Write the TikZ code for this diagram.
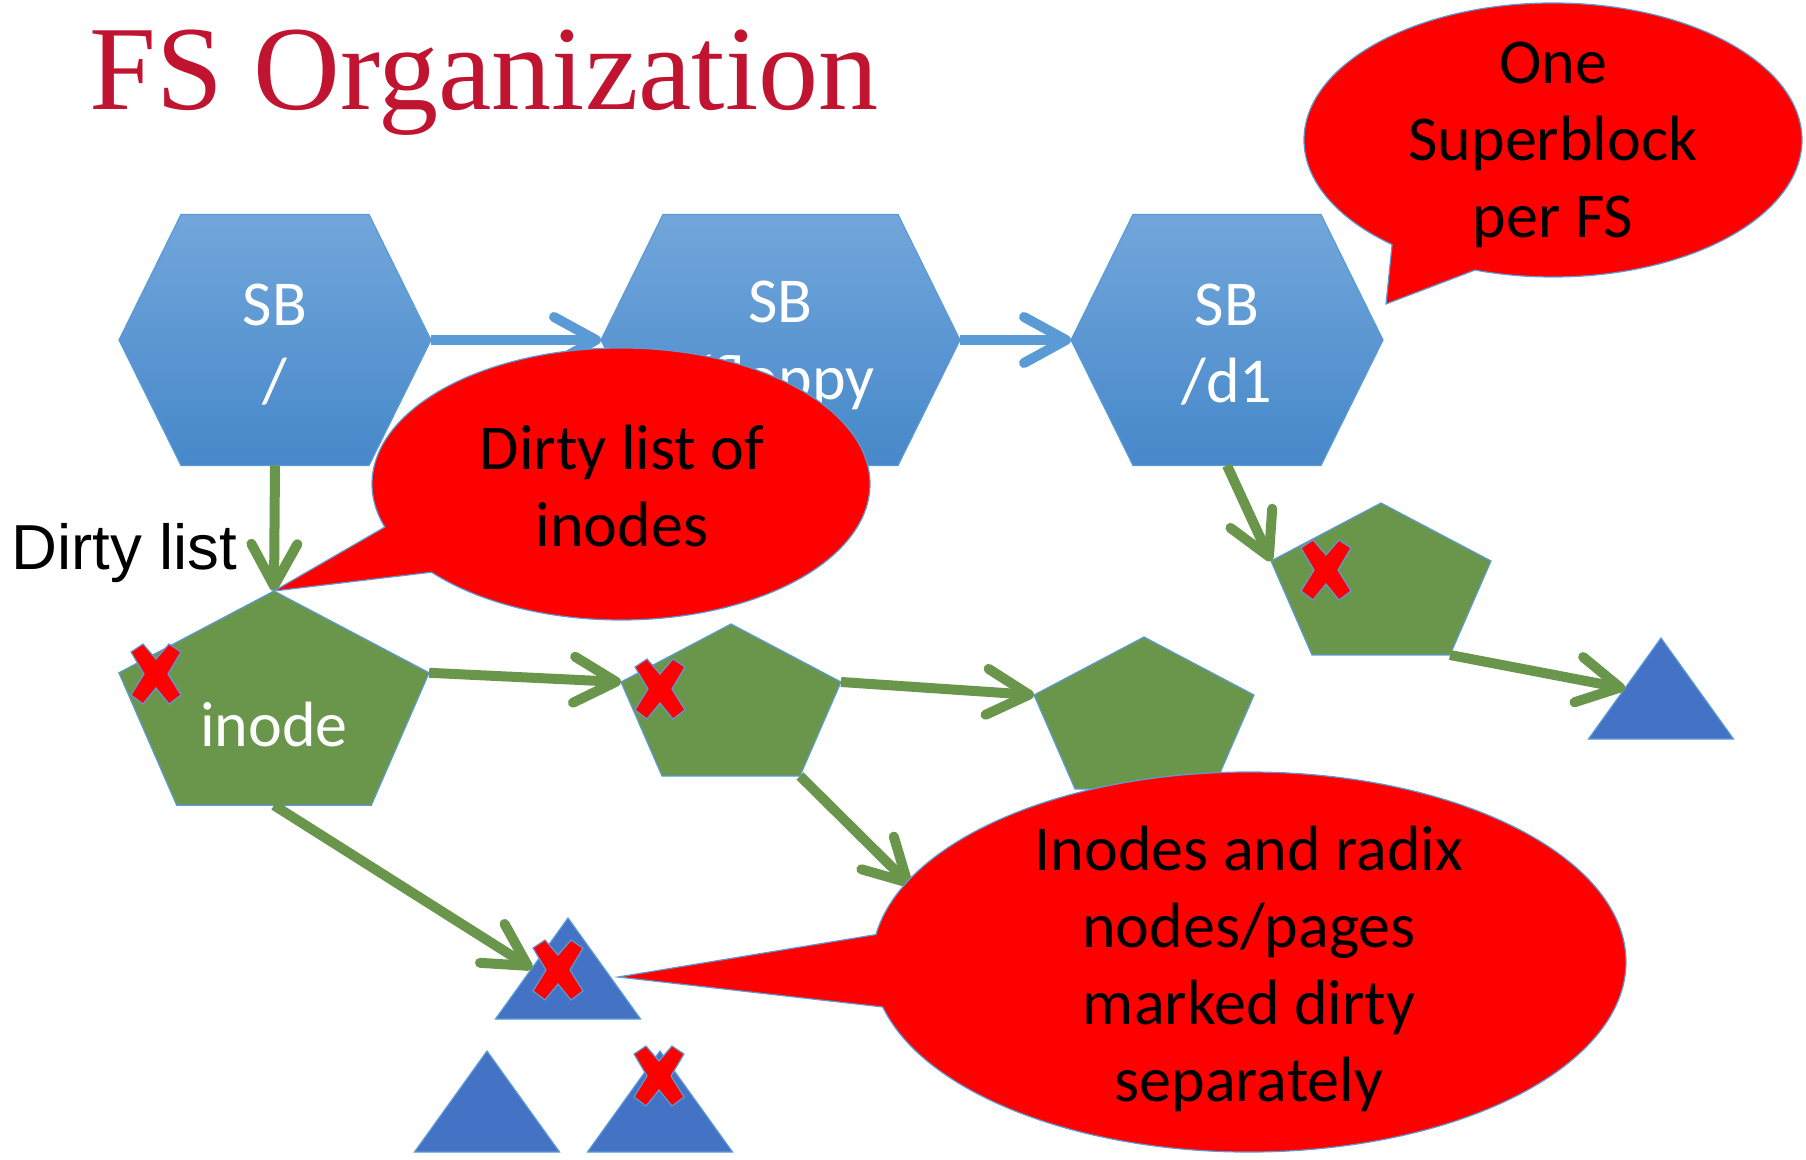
\documentclass[tikz,border=0pt]{standalone}
\usepackage{fontspec}
\setmainfont{Carlito}
\newfontfamily\arialfont{Liberation Sans}
\newfontfamily\titlefont{Liberation Serif}
\usetikzlibrary{arrows.meta,shapes.callouts}

\definecolor{titlered}{RGB}{192,20,48}
\definecolor{hextop}{RGB}{114,166,219}
\definecolor{hexbot}{RGB}{70,136,201}
\definecolor{linkblue}{RGB}{91,155,213}
\definecolor{inodegreen}{RGB}{106,150,76}
\definecolor{pageblue}{RGB}{68,114,196}
\definecolor{edgeblue}{RGB}{91,155,213}

\tikzset{
  shapeedge/.style={draw=edgeblue, line width=0.6pt},
  bigtext/.style={font=\fontsize{32pt}{38.5pt}\selectfont, align=center, inner sep=0pt},
  sblabel/.style={bigtext, text=white},
  sblink/.style={draw=linkblue, line width=5pt, -{Straight Barb[length=21pt,width=23pt,round]}},
  dirtylink/.style={sblink, draw=inodegreen},
  bubble/.style={ellipse callout, fill=red, shapeedge, inner sep=0pt, callout pointer arc=22},
  %% superblock hexagon, #1 = half length of the top edge
  pics/sbhex/.style={code={
    \shadedraw[shapeedge, top color=hextop, bottom color=hexbot]
      (-#1-62,0) -- (-#1,-125.5) -- (#1,-125.5) -- (#1+62,0) -- (#1,125.5) -- (-#1,125.5) -- cycle;
    \coordinate (-center) at (0,5);
    \coordinate (-west) at (-#1-62,0);
    \coordinate (-east) at (#1+62,0);
    \coordinate (-south) at (0,125.5);
  }},
  %% inode pentagon, origin at the top corner
  pics/inodepent/.style={code={
    \filldraw[shapeedge, fill=inodegreen]
      (0,0) -- (110,58) -- (69,152) -- (-69,152) -- (-110,58) -- cycle;
    \coordinate (-top) at (0,0);
    \coordinate (-west) at (-110,58);
    \coordinate (-east) at (110,58);
    \coordinate (-se) at (69,152);
    \coordinate (-south) at (0,152);
  }},
  %% page triangle, origin at the apex
  pics/pagetri/.style={code={
    \filldraw[shapeedge, fill=pageblue]
      (0,0) -- (72.5,101) -- (-72.5,101) -- cycle;
    \coordinate (-west) at (-36,50.5);
    \coordinate (-east) at (36,50.5);
  }},
  %% red dirty mark
  pics/dirtymark/.style={code={
    \filldraw[shapeedge, fill=red]
      (-25,-22) -- (-13,-30) -- (0,-15) -- (13,-30) -- (25,-22) -- (12,0) -- (25,21)
      -- (13,30) -- (0,14) -- (-13,30) -- (-25,21) -- (-12,0) -- cycle;
  }},
}

\begin{document}
\begin{tikzpicture}[x=0.5pt, y=-0.5pt]
  \useasboundingbox (0,0) rectangle (1806,1160);
  %% Title
  \node[anchor=base west, inner sep=0pt, text=titlered,
        font=\titlefont\fontsize{60.1pt}{70pt}\selectfont] (title) at (89.5,109.5) {FS Organization};
  \node[anchor=base west, inner sep=0pt,
        font=\arialfont\fontsize{31.8pt}{36pt}\selectfont] (dlist) at (11,570) {Dirty list};
  %% Superblocks
  \pic (h1) at (275,340) {sbhex=94};
  \pic (h2) at (780.5,340) {sbhex=117.5};
  \pic (h3) at (1227,340) {sbhex=94};
  \node[sblabel] (h1lbl) at (h1-center) {SB\\/};
  \node[sblabel] (h2lbl) at (h2-center) {SB\\/floppy};
  \node[sblabel] (h3lbl) at (h3-center) {SB\\/d1};
  %% Inodes
  \pic[scale=1.41] (p1) at (274,591) {inodepent};
  \pic (p2) at (731,624) {inodepent};
  \pic (p3) at (1144,637) {inodepent};
  \pic (p4) at (1381,503) {inodepent};
  \node[sblabel] (p1lbl) at (274,724) {inode};
  %% Pages
  \pic (t1) at (1661,638) {pagetri};
  \pic (t2) at (568,918) {pagetri};
  \pic (t3) at (487,1051) {pagetri};
  \pic (t4) at (660,1051) {pagetri};
  \coordinate (hidden) at (911,886);
  \coordinate (sbtip) at (1386,304);
  \coordinate (t2tip) at (618,977);
  %% Links
  \draw[sblink] (h1-east) -- (h2-west);
  \draw[sblink] (h2-east) -- (h3-west);
  \draw[dirtylink] (h1-south) -- (p1-top);
  \draw[dirtylink] (p1-east) -- (p2-west);
  \draw[dirtylink] (p2-east) -- (p3-west);
  \draw[dirtylink] (h3-south) -- (p4-west);
  \draw[dirtylink] (p4-se) -- (t1-west);
  \draw[dirtylink] (p1-south) -- (t2-west);
  \draw[dirtylink] (p2-se) -- (hidden);
  %% Dirty marks
  \pic at (156,674) {dirtymark};
  \pic at (660,689) {dirtymark};
  \pic at (1326,570) {dirtymark};
  \pic at (558,970) {dirtymark};
  \pic at (659,1076) {dirtymark};
  %% Callouts
  \node[bubble, minimum width=249pt, minimum height=136pt,
        callout absolute pointer={(p1-top)}] (cl1) at (621,484) {};
  \node[bigtext] (cl1txt) at (622,486) {Dirty list of\\inodes};
  \node[bubble, minimum width=249pt, minimum height=137pt,
        callout absolute pointer={(sbtip)}] (cl2) at (1553,140) {};
  \node[bigtext] (cl2txt) at (1553,145) {One\\Superblock\\per FS};
  \node[bubble, minimum width=377pt, minimum height=190pt,
        callout absolute pointer={(t2tip)}] (cl3) at (1249,962) {};
  \node[bigtext] (cl3txt) at (1249,969) {Inodes and radix\\nodes/pages\\marked dirty\\separately};
\end{tikzpicture}
\end{document}
